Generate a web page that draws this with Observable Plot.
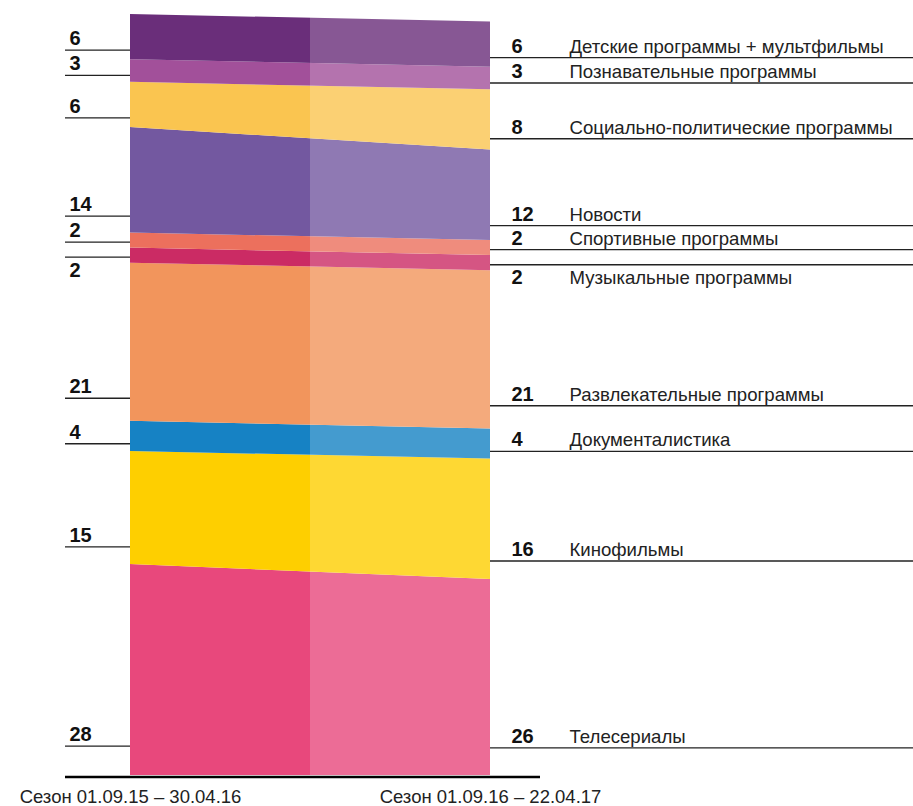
<!DOCTYPE html>
<html>
<head>
<meta charset="utf-8">
<script src="https://cdn.jsdelivr.net/npm/d3@7"></script>
<script src="https://cdn.jsdelivr.net/npm/@observablehq/plot@0.6"></script>
<style>
  html, body { margin: 0; padding: 0; background: #fff; }
  #chart svg { display: block; font-family: "Liberation Sans", Arial, sans-serif; }
</style>
</head>
<body>
<div id="chart"></div>
<script>
// Stack order: bottom to top
const categories = [
  "Телесериалы",
  "Кинофильмы",
  "Документалистика",
  "Развлекательные программы",
  "Музыкальные программы",
  "Спортивные программы",
  "Новости",
  "Социально-политические программы",
  "Познавательные программы",
  "Детские программы + мультфильмы"
];
const season1 = [28, 15, 4, 21, 2, 2, 14, 6, 3, 6];
const season2 = [26, 16, 4, 21, 2, 2, 12, 8, 3, 6];
const seasons = ["Сезон 01.09.15 – 30.04.16", "Сезон 01.09.16 – 22.04.17"];
const colors = [
  "#e8487c", "#fecf00", "#1682c4", "#f2955c", "#cb2b64",
  "#ec705d", "#7358a0", "#fac550", "#a2509a", "#6a2e7a"
];

const seriesBySeason = [season1, season2];

// long-form table for the stacked area
const rows = [];
categories.forEach((c, i) => {
  seriesBySeason.forEach((vals, s) => rows.push({category: c, s, value: vals[i]}));
});

// label table: line position inside each band
function labelsFor(vals) {
  const out = [];
  let lo = 0;
  vals.forEach((v, i) => {
    out.push({category: categories[i], value: v, lo, ly: lo + 0.55 + 0.12 * v});
    lo += v;
  });
  // if the line of the band above is too close, place the text below the line
  out.forEach((d, i) => {
    const above = out[i + 1];
    d.below = above ? (above.ly - d.ly) < 2.7 : false;
  });
  return out;
}
const leftLabels = labelsFor(season1);
const rightLabels = labelsFor(season2);

const maxTotal = d3.max(seriesBySeason, v => d3.sum(v));
const W = 913, H = 806;
const mL = 130, mR = 423;
const plotW = W - mL - mR; // px per x unit
const xu = px => px / plotW; // convert pixel offsets to x units

const chart = Plot.plot({
  width: W,
  height: H,
  marginLeft: mL,
  marginRight: mR,
  marginTop: 14,
  marginBottom: 31,
  x: {domain: [0, 1]},
  y: {domain: [0, maxTotal], axis: null},
  color: {domain: categories, range: colors},
  style: {fontFamily: "'Liberation Sans', Arial, sans-serif", background: "#fff"},
  marks: [
    Plot.areaY(rows, {x: "s", y: "value", z: "category", fill: "category", order: null}),
    // lighter second-season half
    Plot.rect([{x1: 0.5, x2: 1, y1: 0, y2: maxTotal}], {x1: "x1", x2: "x2", y1: "y1", y2: "y2", fill: "white", fillOpacity: 0.2}),
    // left labels
    Plot.ruleY(leftLabels, {y: "ly", x1: -xu(65), x2: 0, stroke: "#222", strokeWidth: 1.3}),
    Plot.text(leftLabels.filter(d => !d.below), {x: 0, y: "ly", text: d => String(d.value), dx: -61, dy: -5, lineAnchor: "bottom", textAnchor: "start", fontSize: 20, fontWeight: "bold", fill: "#111"}),
    Plot.text(leftLabels.filter(d => d.below), {x: 0, y: "ly", text: d => String(d.value), dx: -61, dy: 20, lineAnchor: "bottom", textAnchor: "start", fontSize: 20, fontWeight: "bold", fill: "#111"}),
    // right labels
    Plot.ruleY(rightLabels, {y: "ly", x1: 1, x2: 1 + xu(423), stroke: "#222", strokeWidth: 1.3}),
    Plot.text(rightLabels.filter(d => !d.below), {x: 1, y: "ly", text: d => String(d.value), dx: 21, dy: -5, lineAnchor: "bottom", textAnchor: "start", fontSize: 20, fontWeight: "bold", fill: "#111"}),
    Plot.text(rightLabels.filter(d => d.below), {x: 1, y: "ly", text: d => String(d.value), dx: 21, dy: 19, lineAnchor: "bottom", textAnchor: "start", fontSize: 20, fontWeight: "bold", fill: "#111"}),
    Plot.text(rightLabels.filter(d => !d.below), {x: 1, y: "ly", text: "category", dx: 79, dy: -5, lineAnchor: "bottom", textAnchor: "start", fontSize: 18.6, fill: "#222"}),
    Plot.text(rightLabels.filter(d => d.below), {x: 1, y: "ly", text: "category", dx: 79, dy: 19, lineAnchor: "bottom", textAnchor: "start", fontSize: 18.6, fill: "#222"}),
    // baseline
    Plot.ruleY([0], {x1: -xu(65), x2: 1 + xu(50), stroke: "#000", strokeWidth: 2.5, dy: 1.5}),
    Plot.axisX({ticks: [0, 1], tickFormat: i => seasons[i], tickSize: 0, tickPadding: 14, fontSize: 18.5, label: null, fill: "#222"})
  ]
});

document.getElementById("chart").appendChild(chart);
</script>
</body>
</html>
